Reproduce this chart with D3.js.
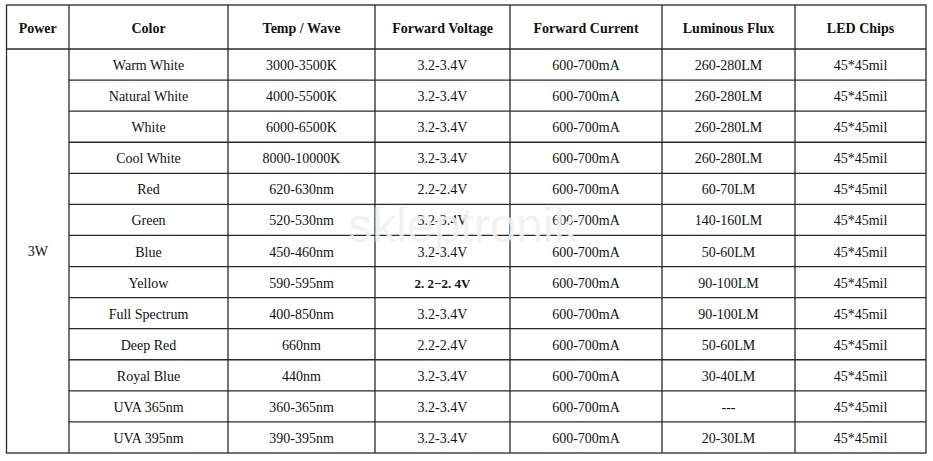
<!DOCTYPE html>
<html>
<head>
<meta charset="utf-8">
<script src="https://cdn.jsdelivr.net/npm/d3@7/dist/d3.min.js"></script>
<style>
html,body{margin:0;padding:0;background:#fff;}
svg{display:block;}
</style>
</head>
<body>
<div id="chart"></div>
<script>
// ---- data ----
const headers = ["Power","Color","Temp / Wave","Forward Voltage","Forward Current","Luminous Flux","LED Chips"];
const power = "3W";
const colors = ["Warm White","Natural White","White","Cool White","Red","Green","Blue","Yellow","Full Spectrum","Deep Red","Royal Blue","UVA 365nm","UVA 395nm"];
const temps = ["3000-3500K","4000-5500K","6000-6500K","8000-10000K","620-630nm","520-530nm","450-460nm","590-595nm","400-850nm","660nm","440nm","360-365nm","390-395nm"];
const voltages = ["3.2-3.4V","3.2-3.4V","3.2-3.4V","3.2-3.4V","2.2-2.4V","3.2-3.4V","3.2-3.4V","2. 2\u22122. 4V","3.2-3.4V","2.2-2.4V","3.2-3.4V","3.2-3.4V","3.2-3.4V"];
const currents = ["600-700mA","600-700mA","600-700mA","600-700mA","600-700mA","600-700mA","600-700mA","600-700mA","600-700mA","600-700mA","600-700mA","600-700mA","600-700mA"];
const fluxes = ["260-280LM","260-280LM","260-280LM","260-280LM","60-70LM","140-160LM","50-60LM","90-100LM","90-100LM","50-60LM","30-40LM","---","20-30LM"];
const chips = ["45*45mil","45*45mil","45*45mil","45*45mil","45*45mil","45*45mil","45*45mil","45*45mil","45*45mil","45*45mil","45*45mil","45*45mil","45*45mil"];
const watermark = "skleptronik";

// ---- layout ----
const W = 933, H = 461;
const colEdges = [6.5, 69, 228, 375, 510, 662, 795, 926];
const tableTop = 5, headerBottom = 49, tableBottom = 453;

const svg = d3.select("#chart").append("svg").attr("width", W).attr("height", H);

const rowIdx = d3.range(colors.length);
const y = d3.scaleBand().domain(rowIdx).range([headerBottom, tableBottom]);
const colX = d3.scaleOrdinal().domain(d3.range(headers.length)).range(colEdges.slice(0, -1));
const colW = i => colEdges[i + 1] - colEdges[i];
const cx = i => colX(i) + colW(i) / 2;

const fontFam = "'Liberation Serif', 'Times New Roman', serif";
const isSpecial = d => d.includes("\u2212");

// header text
svg.append("g").selectAll("text").data(headers).join("text")
  .attr("x", (d, i) => cx(i))
  .attr("y", (tableTop + headerBottom) / 2 + 1)
  .attr("text-anchor", "middle").attr("dominant-baseline", "central")
  .attr("font-family", fontFam).attr("font-weight", "bold").attr("font-size", 14)
  .attr("fill", "#111")
  .text(d => d);

// power cell (merged)
svg.append("text")
  .attr("x", cx(0)).attr("y", (headerBottom + tableBottom) / 2)
  .attr("text-anchor", "middle").attr("dominant-baseline", "central")
  .attr("font-family", fontFam).attr("font-size", 14).attr("fill", "#111")
  .text(power);

// body cells
const columns = [colors, temps, voltages, currents, fluxes, chips];
columns.forEach((arr, ci) => {
  const col = ci + 1;
  svg.append("g").selectAll("text").data(arr).join("text")
    .attr("x", cx(col))
    .attr("y", (d, i) => y(i) + y.bandwidth() / 2 + 1)
    .attr("text-anchor", "middle").attr("dominant-baseline", "central")
    .attr("font-family", fontFam)
    .attr("font-size", d => isSpecial(d) ? 13 : 14)
    .attr("font-weight", d => isSpecial(d) ? "bold" : "normal")
    .attr("fill", "#111")
    .text(d => d);
});

// grid lines
const stroke = "#2a2a2a", sw = 1.3;
const g = svg.append("g").attr("stroke", stroke).attr("stroke-width", sw).attr("fill", "none");
g.append("rect").attr("x", colEdges[0]).attr("y", tableTop)
  .attr("width", colEdges[colEdges.length - 1] - colEdges[0]).attr("height", tableBottom - tableTop);
g.selectAll("line.v").data(colEdges.slice(1, -1)).join("line").attr("class", "v")
  .attr("x1", d => d).attr("x2", d => d).attr("y1", tableTop).attr("y2", tableBottom);
g.append("line").attr("x1", colEdges[0]).attr("x2", colEdges[colEdges.length - 1])
  .attr("y1", headerBottom).attr("y2", headerBottom);
g.selectAll("line.h").data(rowIdx.slice(1)).join("line").attr("class", "h")
  .attr("x1", colEdges[1]).attr("x2", colEdges[colEdges.length - 1])
  .attr("y1", d => y(d)).attr("y2", d => y(d));

// watermark, drawn over the table as in the reference
svg.append("text")
  .attr("x", 463).attr("y", 242)
  .attr("text-anchor", "middle")
  .attr("font-family", "'Liberation Sans', Arial, sans-serif")
  .attr("font-size", 48)
  .attr("fill", "#f1f1f1")
  .attr("fill-opacity", 0.88)
  .text(watermark);
</script>
</body>
</html>
